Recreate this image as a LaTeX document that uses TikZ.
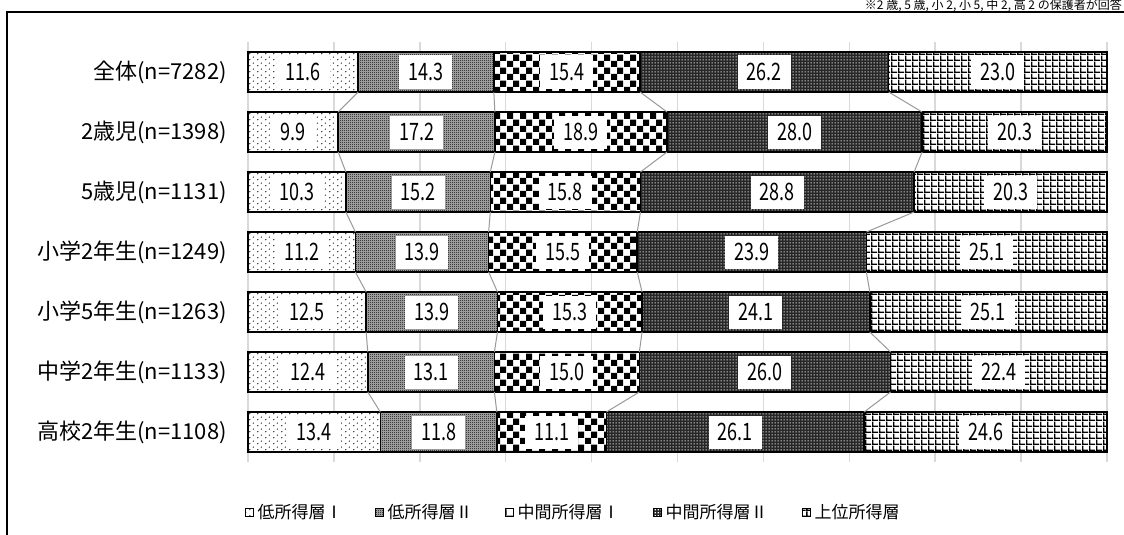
\documentclass[tikz,border=0pt]{standalone}
\usepackage{fontspec}
\usetikzlibrary{patterns,positioning}
\newfontfamily\jpfont{Noto Sans CJK JP}
\newfontfamily\numfont{Noto Sans CJK JP}[FakeStretch=0.75]

\pgfdeclarepatternformonly{lowdots}{\pgfqpoint{0pt}{0pt}}{\pgfqpoint{8pt}{6pt}}{\pgfqpoint{8pt}{6pt}}{
  \pgfpathcircle{\pgfqpoint{2pt}{1.5pt}}{0.75pt}
  \pgfpathcircle{\pgfqpoint{6pt}{4.5pt}}{0.75pt}
  \pgfusepath{fill}}
\pgfdeclarepatternformonly{finecheck}{\pgfqpoint{0pt}{0pt}}{\pgfqpoint{2pt}{2pt}}{\pgfqpoint{2pt}{2pt}}{
  \pgfpathrectangle{\pgfqpoint{0pt}{0pt}}{\pgfqpoint{1pt}{1pt}}
  \pgfpathrectangle{\pgfqpoint{1pt}{1pt}}{\pgfqpoint{1pt}{1pt}}
  \pgfusepath{fill}}
\pgfdeclarepatternformonly{bigcheck}{\pgfqpoint{0pt}{0pt}}{\pgfqpoint{13pt}{13pt}}{\pgfqpoint{13pt}{13pt}}{
  \pgfpathrectangle{\pgfqpoint{0pt}{0pt}}{\pgfqpoint{6.5pt}{6.5pt}}
  \pgfpathrectangle{\pgfqpoint{6.5pt}{6.5pt}}{\pgfqpoint{6.5pt}{6.5pt}}
  \pgfusepath{fill}}
\pgfdeclarepatternformonly{darkdots}{\pgfqpoint{0pt}{0pt}}{\pgfqpoint{3pt}{3pt}}{\pgfqpoint{3pt}{3pt}}{
  \pgfpathrectangle{\pgfqpoint{0.8pt}{0.8pt}}{\pgfqpoint{1.4pt}{1.4pt}}
  \pgfusepath{fill}}
\pgfdeclarepatternformonly{gridcells}{\pgfqpoint{0pt}{0pt}}{\pgfqpoint{6.5pt}{6pt}}{\pgfqpoint{6.5pt}{6pt}}{
  \pgfpathrectangle{\pgfqpoint{0pt}{0pt}}{\pgfqpoint{1.6pt}{6pt}}
  \pgfpathrectangle{\pgfqpoint{0pt}{0pt}}{\pgfqpoint{6.5pt}{1.6pt}}
  \pgfusepath{fill}}

\tikzset{
  seg/.style={draw=black, line width=1.5pt},
  lowI/.style={preaction={fill=white}, pattern=lowdots},
  lowII/.style={preaction={fill=black!30}, pattern=finecheck},
  midI/.style={preaction={fill=white}, pattern=bigcheck},
  midII/.style={preaction={fill=black!85}, pattern=darkdots, pattern color=white},
  upper/.style={preaction={fill=white}, pattern=gridcells},
  val/.style={fill=white, inner xsep=9pt, inner ysep=0pt, minimum height=33pt, font=\numfont\fontsize{24}{24}\selectfont},
  cat/.style={anchor=east, inner sep=0pt, font=\jpfont\fontsize{22}{26}\selectfont},
  link/.style={draw=black!40, line width=1pt},
  gridline/.style={draw=black!15, line width=1.5pt},
  legbox/.style={draw=black, line width=1pt, minimum size=8pt, inner sep=0pt},
  legtext/.style={font=\jpfont\fontsize{17}{20}\selectfont, inner sep=1pt}
}

\begin{document}
\begin{tikzpicture}[x=1pt, y=-1pt]
\clip (0,0) rectangle (1124,535);
\fill[white] (0,0) rectangle (1124,535);
\draw[line width=2pt] (7,545) |- (1135,12);
\node[anchor=east, inner sep=0pt, font=\jpfont\fontsize{12}{12}\selectfont] (note) at (1122,5.5) {※2 歳, 5 歳, 小 2, 小 5, 中 2, 高 2 の保護者が回答};

\foreach \k in {0,...,10}
  \draw[gridline] ({248+85.9*\k},42) -- ({248+85.9*\k},462);

% bars
\foreach \lab/\va/\vb/\vc/\vd/\ve [count=\r] in {
    全体(n=7282)/11.6/14.3/15.4/26.2/23.0,
    2歳児(n=1398)/9.9/17.2/18.9/28.0/20.3,
    5歳児(n=1131)/10.3/15.2/15.8/28.8/20.3,
    小学2年生(n=1249)/11.2/13.9/15.5/23.9/25.1,
    小学5年生(n=1263)/12.5/13.9/15.3/24.1/25.1,
    中学2年生(n=1133)/12.4/13.1/15.0/26.0/22.4,
    高校2年生(n=1108)/13.4/11.8/11.1/26.1/24.6}{
  \pgfmathsetmacro\tot{\va+\vb+\vc+\vd+\ve}
  \pgfmathsetmacro\y{72+60*(\r-1)}
  \node[cat] (cat\r) at (227,\y) {\lab};
  \xdef\cum{0}
  \foreach \v/\pat [count=\s] in {\va/lowI,\vb/lowII,\vc/midI,\vd/midII,\ve/upper}{
    \pgfmathsetmacro\xa{248+859*(\cum/\tot)}
    \pgfmathsetmacro\xb{248+859*((\cum+\v)/\tot)}
    \draw[seg, \pat] (\xa,\y-20) rectangle (\xb,\y+20);
    \node[val] (v\r-\s) at ({(\xa+\xb)/2},\y) {\v};
    \coordinate (t\r-\s) at (\xb,\y-20);
    \coordinate (b\r-\s) at (\xb,\y+20);
    \pgfmathsetmacro\nxt{\cum+\v}
    \xdef\cum{\nxt}
  }
}

\foreach \r in {1,...,6}
  \foreach \s in {1,...,4}{
    \pgfmathtruncatemacro\n{\r+1}
    \draw[link] (b\r-\s) -- (t\n-\s);
  }

% legend
\node[legbox, lowI] (sq1) at (249,512) {};
\node[legtext, right=3pt of sq1] (leg1) {低所得層Ⅰ};
\node[legbox, lowII] (sq2) at (379,512) {};
\node[legtext, right=3pt of sq2] (leg2) {低所得層Ⅱ};
\node[legbox, midI] (sq3) at (509,512) {};
\node[legtext, right=3pt of sq3] (leg3) {中間所得層Ⅰ};
\node[legbox, midII] (sq4) at (657,512) {};
\node[legtext, right=3pt of sq4] (leg4) {中間所得層Ⅱ};
\node[legbox, upper] (sq5) at (806,512) {};
\node[legtext, right=3pt of sq5] (leg5) {上位所得層};
\end{tikzpicture}
\end{document}
